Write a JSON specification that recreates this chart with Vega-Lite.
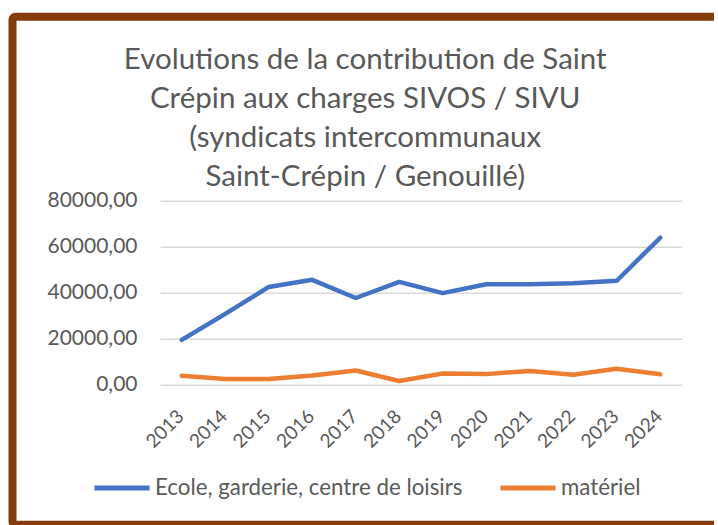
{
  "$schema": "https://vega.github.io/schema/vega-lite/v6.json",
  "width": 705.5,
  "height": 508,
  "autosize": {"type": "none"},
  "padding": {"left": 12.5, "top": 16.7, "right": 0, "bottom": 0.3},
  "background": "white",
  "title": {
    "text": ["Evolutions de la contribution de Saint", "Crépin aux charges SIVOS / SIVU", "(syndicats intercommunaux", "Saint-Crépin / Genouillé)"],
    "font": "Lato",
    "fontSize": 29.5,
    "fontWeight": "normal",
    "color": "#595959",
    "lineHeight": 39,
    "anchor": "middle",
    "frame": "group",
    "offset": -175.5
  },
  "data": {
    "values": [
      {"year": "2013", "series": "Ecole, garderie, centre de loisirs", "value": 19500},
      {"year": "2014", "series": "Ecole, garderie, centre de loisirs", "value": 30800},
      {"year": "2015", "series": "Ecole, garderie, centre de loisirs", "value": 42500},
      {"year": "2016", "series": "Ecole, garderie, centre de loisirs", "value": 45600},
      {"year": "2017", "series": "Ecole, garderie, centre de loisirs", "value": 37700},
      {"year": "2018", "series": "Ecole, garderie, centre de loisirs", "value": 44700},
      {"year": "2019", "series": "Ecole, garderie, centre de loisirs", "value": 39800},
      {"year": "2020", "series": "Ecole, garderie, centre de loisirs", "value": 43700},
      {"year": "2021", "series": "Ecole, garderie, centre de loisirs", "value": 43700},
      {"year": "2022", "series": "Ecole, garderie, centre de loisirs", "value": 44100},
      {"year": "2023", "series": "Ecole, garderie, centre de loisirs", "value": 45200},
      {"year": "2024", "series": "Ecole, garderie, centre de loisirs", "value": 63900},
      {"year": "2013", "series": "matériel", "value": 3900},
      {"year": "2014", "series": "matériel", "value": 2500},
      {"year": "2015", "series": "matériel", "value": 2500},
      {"year": "2016", "series": "matériel", "value": 4000},
      {"year": "2017", "series": "matériel", "value": 6200},
      {"year": "2018", "series": "matériel", "value": 1600},
      {"year": "2019", "series": "matériel", "value": 4900},
      {"year": "2020", "series": "matériel", "value": 4600},
      {"year": "2021", "series": "matériel", "value": 6000},
      {"year": "2022", "series": "matériel", "value": 4300},
      {"year": "2023", "series": "matériel", "value": 6900},
      {"year": "2024", "series": "matériel", "value": 4500}
    ]
  },
  "mark": {"type": "line", "strokeWidth": 4.5, "strokeCap": "round", "strokeJoin": "round"},
  "encoding": {
    "x": {
      "field": "year",
      "type": "ordinal",
      "sort": null,
      "scale": {"type": "point", "padding": 0.5, "range": [147.5, 669.5]},
      "axis": {
        "title": null,
        "domain": false,
        "ticks": false,
        "grid": false,
        "labelAngle": -45,
        "labelAlign": "right",
        "labelBaseline": "middle",
        "labelFont": "Lato",
        "labelFontSize": 19,
        "labelColor": "#595959",
        "labelPadding": 28,
        "labelOffset": -1.5,
        "offset": -139.7
      }
    },
    "y": {
      "field": "value",
      "type": "quantitative",
      "scale": {"domain": [0, 80000], "range": [368, 184], "nice": false},
      "axis": {
        "title": null,
        "domain": false,
        "ticks": false,
        "grid": true,
        "gridColor": "#d9d9d9",
        "gridWidth": 1.5,
        "values": [0, 20000, 40000, 60000, 80000],
        "labelExpr": "replace(format(datum.value, '.2f'), '.', ',')",
        "labelFont": "Lato",
        "labelFontSize": 21,
        "labelColor": "#595959",
        "labelPadding": 0,
        "offset": -124.5
      }
    },
    "color": {
      "field": "series",
      "type": "nominal",
      "scale": {"domain": ["Ecole, garderie, centre de loisirs", "matériel"], "range": ["#4472C4", "#ED7D31"]},
      "legend": {
        "orient": "none",
        "legendX": 79.5,
        "legendY": 441,
        "direction": "horizontal",
        "title": null,
        "symbolType": "stroke",
        "symbolSize": 3025,
        "symbolStrokeWidth": 5,
        "labelFont": "Lato",
        "labelFontSize": 22.3,
        "labelLimit": 500,
        "labelColor": "#595959",
        "labelOffset": 3,
        "columnPadding": 27,
        "padding": 0
      }
    }
  },
  "config": {
    "view": {
      "stroke": {
        "gradient": "linear",
        "x1": 0, "y1": 0, "x2": 1, "y2": 0,
        "stops": [
          {"offset": 0, "color": "#843C0C"},
          {"offset": 0.9940, "color": "#843C0C"},
          {"offset": 0.9942, "color": "#ffffff"},
          {"offset": 1, "color": "#ffffff"}
        ]
      },
      "strokeWidth": 8,
      "cornerRadius": 3
    }
  }
}
